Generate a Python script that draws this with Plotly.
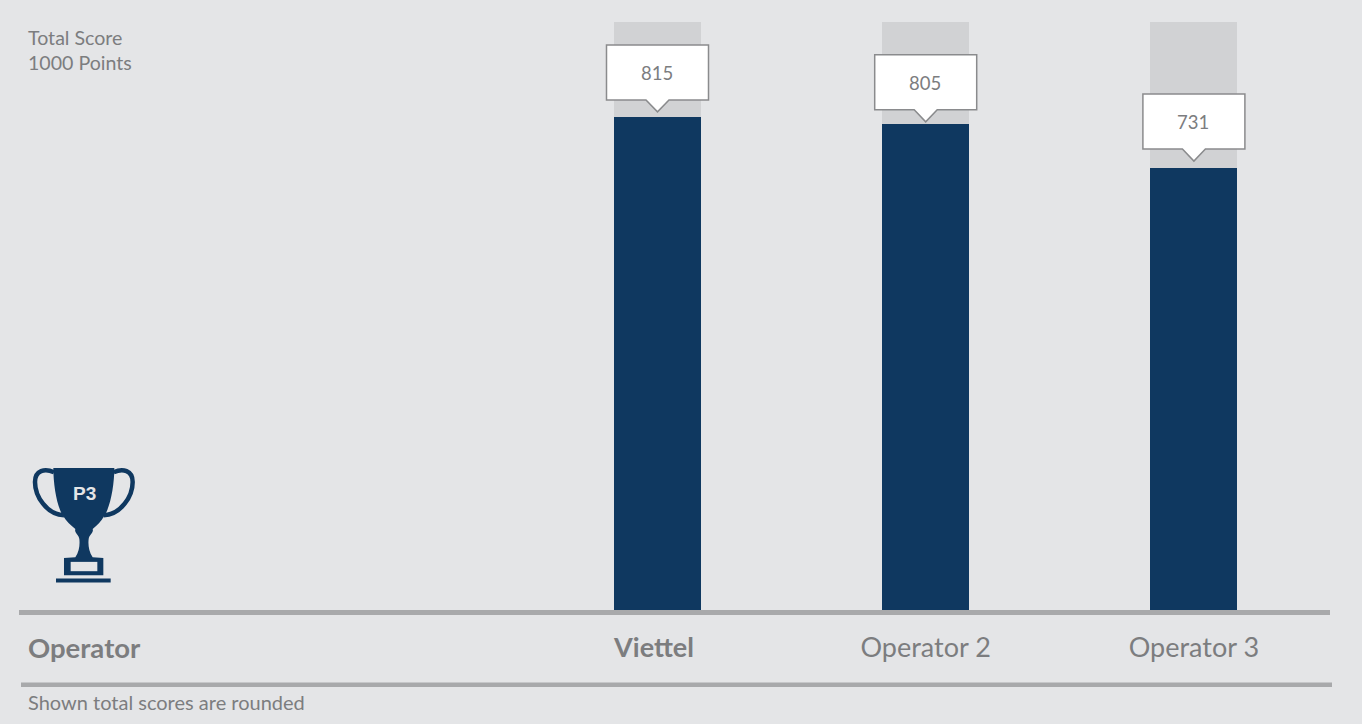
import plotly.graph_objects as go

# Data
operators = ["Viettel", "Operator 2", "Operator 3"]
tick_labels = ["<b>Viettel</b>&nbsp;", "Operator 2", "Operator 3"]
total_scores = [815, 805, 731]
track_values = [973, 973, 973]
axis_title = "Operator"
score_note = ["Total Score", "1000 Points"]
footnote = "Shown total scores are rounded"

# Layout (pixels of the 1362x724 page)
W, H = 1362, 724
BG = "#e4e5e7"
NAVY = "#0f3860"
TRACK = "#d1d2d4"
RULE = "#a8a9ab"
TEXT = "#7c7d7f"
FONT = "Lato"
PLOT_L, PLOT_R, PLOT_T, PLOT_B = 19, 1330, 0, 610.5
PX_PER_POINT = 0.6048
PX_PER_CAT = 268.2
CENTER0 = 657.5
tip_gaps = [5.6, 1.7, 7.2]


def fx(px):
    return (px - PLOT_L) / (PLOT_R - PLOT_L)


def fy(py):
    return (PLOT_B - py) / (PLOT_B - PLOT_T)


fig = go.Figure()
fig.add_bar(x=operators, y=track_values, marker_color=TRACK, marker_line_width=0,
            width=87 / PX_PER_CAT, hoverinfo="skip")
fig.add_bar(x=operators, y=total_scores, marker_color=NAVY, marker_line_width=0,
            width=87 / PX_PER_CAT)

shapes = []
annotations = []

# Callouts with their values
for i, (op, val, gap) in enumerate(zip(operators, total_scores, tip_gaps)):
    path = (
        f"M -51 {gap + 67} L 51 {gap + 67} L 51 {gap + 12} L 11.5 {gap + 12} "
        f"L 0 {gap} L -11.5 {gap + 12} L -51 {gap + 12} Z"
    )
    shapes.append(dict(type="path", xref="x", yref="y", xsizemode="pixel", ysizemode="pixel",
                       xanchor=i, yanchor=val, path=path, fillcolor="white",
                       line=dict(color="#8a8b8d", width=1.5), layer="above"))
    annotations.append(dict(x=op, y=val, xref="x", yref="y", text=str(val), showarrow=False,
                            yshift=gap + 39, xshift=-1,
                            font=dict(family=FONT, size=18.5, color=TEXT)))

# Lower rule
shapes.append(dict(type="rect", xref="paper", yref="paper", x0=fx(21), x1=fx(1332),
                   y0=fy(683), y1=fy(687.5), fillcolor=RULE, line_width=0, layer="above"))


# Trophy icon, drawn from a 3x sketch grid
def t(x, y):
    return f"{fx(x / 3):.5f} {fy(450 + y / 3):.5f}"


def path(cmds):
    out = []
    for c, pts in cmds:
        if c == "L":
            out.extend("L " + t(*p) for p in pts)
        else:
            out.append(c + " " + " ".join(t(*p) for p in pts))
    return " ".join(out)


cup = path([
    ("M", [(160, 55)]), ("L", [(343, 55)]),
    ("C", [(343, 110), (330, 175), (312, 200)]),
    ("C", [(305, 215), (290, 228), (278, 238)]),
    ("C", [(282, 250), (268, 255), (266, 268)]),
    ("C", [(264, 285), (266, 305), (278, 323)]),
    ("L", [(310, 325), (310, 377), (192, 377), (192, 325), (226, 323)]),
    ("C", [(238, 305), (240, 285), (238, 268)]),
    ("C", [(236, 255), (222, 250), (226, 238)]),
    ("C", [(214, 228), (198, 215), (190, 200)]),
    ("C", [(172, 175), (160, 110), (160, 55)]),
]) + " Z"
handle_l = path([("M", [(162, 68)]), ("C", [(135, 55), (105, 62), (105, 97)]),
                 ("C", [(105, 140), (140, 195), (192, 197)])])
handle_r = path([("M", [(341, 68)]), ("C", [(368, 55), (398, 62), (398, 97)]),
                 ("C", [(398, 140), (363, 195), (311, 197)])])
for d, fill, lw in [(cup, NAVY, 0), (handle_l, None, 4.5), (handle_r, None, 4.5)]:
    s = dict(type="path", xref="paper", yref="paper", path=d, layer="above",
             line=dict(color=NAVY, width=lw))
    if fill:
        s["fillcolor"] = fill
    shapes.append(s)
shapes.append(dict(type="rect", xref="paper", yref="paper", x0=fx(212 / 3), x1=fx(292 / 3),
                   y0=fy(450 + 337 / 3), y1=fy(450 + 365 / 3), fillcolor=BG, line_width=0, layer="above"))
shapes.append(dict(type="rect", xref="paper", yref="paper", x0=fx(168 / 3), x1=fx(332 / 3),
                   y0=fy(450 + 387 / 3), y1=fy(450 + 399 / 3), fillcolor=NAVY, line_width=0, layer="above"))


def note(x, y, text, size, color=TEXT, anchor="left", family=FONT):
    return dict(xref="paper", yref="paper", x=fx(x), y=fy(y), text=text, showarrow=False,
                xanchor=anchor, yanchor="middle", font=dict(family=family, size=size, color=color))


annotations += [
    note(84, 494, "<b>P3</b>", 19, "#e4e5e7", "center", "Liberation Sans"),
    note(25.5, 38, score_note[0], 19.6),
    note(25.5, 63, score_note[1], 19.6),
    note(25.5, 648, f"<b>{axis_title}</b>", 27.5),
    note(25.5, 703, footnote, 20),
]

fig.update_layout(
    width=W, height=H,
    margin=dict(l=PLOT_L, r=W - PLOT_R, t=PLOT_T, b=H - PLOT_B, pad=0, autoexpand=False),
    paper_bgcolor=BG, plot_bgcolor=BG,
    barmode="overlay", showlegend=False, bargap=0,
    shapes=shapes, annotations=annotations,
    font=dict(family=FONT, color=TEXT),
    xaxis=dict(
        type="category", categoryorder="array", categoryarray=operators,
        tickmode="array", tickvals=operators, ticktext=tick_labels,
        range=[(PLOT_L - CENTER0) / PX_PER_CAT, (PLOT_R - CENTER0) / PX_PER_CAT],
        showgrid=False, zeroline=False, showline=True, linecolor=RULE, linewidth=4.5,
        ticks="outside", ticklen=10, tickcolor="rgba(0,0,0,0)", tickwidth=0,
        tickfont=dict(family=FONT, size=27, color=TEXT),
    ),
    yaxis=dict(
        range=[0, (PLOT_B - PLOT_T) / PX_PER_POINT], visible=False, showgrid=False, zeroline=False,
    ),
)

fig.write_html("out.html", config={"displayModeBar": False},
               post_script="document.body.style.margin='0';document.body.style.background='#e4e5e7';")
